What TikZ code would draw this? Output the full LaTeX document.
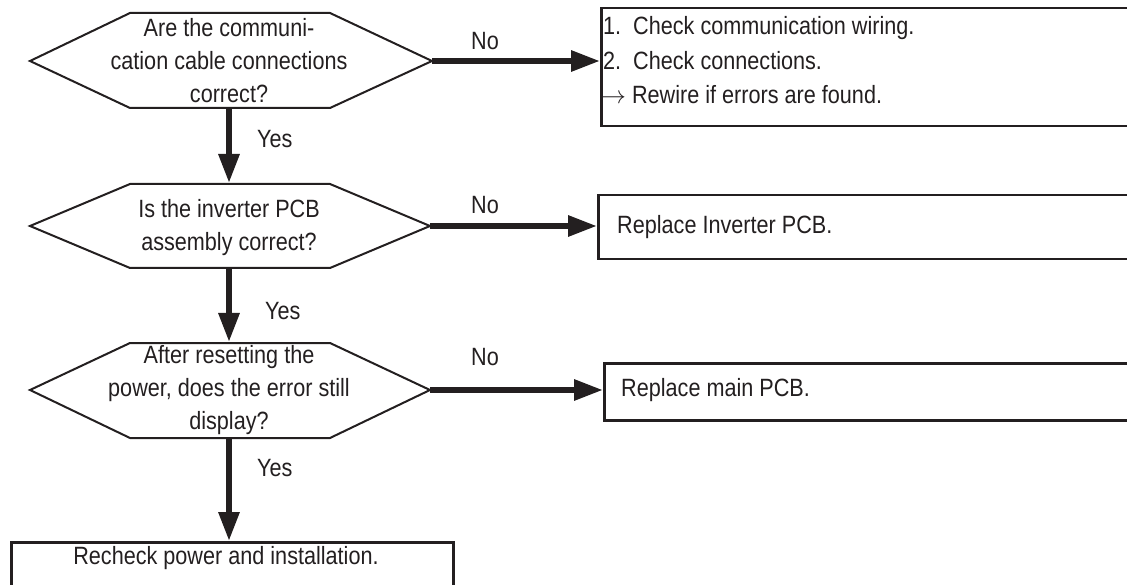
\documentclass[tikz,border=0pt]{standalone}
\usepackage{fontspec}
\setmainfont{Liberation Sans}[FakeStretch=0.865]
\usetikzlibrary{arrows.meta}
\definecolor{ink}{HTML}{231F20}
\begin{document}
\begin{tikzpicture}[x=1pt,y=-1pt,
  hexline/.style={draw=ink, line width=2pt, line join=miter},
  boxline/.style={draw=ink, line width=2.5pt, inner sep=0pt, anchor=north west},
  arr/.style={draw=ink, line width=6pt, -{Triangle[length=29pt,width=20pt]}},
  txt/.style={font=\fontsize{25}{33}\selectfont, text=ink, align=center, inner sep=0pt},
  lbl/.style={font=\fontsize{25}{33}\selectfont, text=ink, inner sep=0pt}]
\useasboundingbox (0,0) rectangle (1127,585);
% decision shapes
\draw[hexline] (30,61) -- (130,13) -- (330,13) -- (432,61) -- (330,108) -- (130,108) -- cycle;
\draw[hexline] (30,226) -- (130,184) -- (330,184) -- (430,226) -- (330,268) -- (130,268) -- cycle;
\draw[hexline] (30,390) -- (130,343) -- (330,343) -- (430,390) -- (330,438) -- (130,438) -- cycle;
\node[txt] (q1) at (229,61) {Are the communi-\\cation cable connections\\correct?};
\node[txt] (q2) at (229,228) {Is the inverter PCB\\assembly correct?};
\node[txt] (q3) at (229,390) {After resetting the\\power, does the error still\\display?};
\coordinate (q1r) at (432,61);
\coordinate (q1b) at (229,108);
\coordinate (q2t) at (229,183);
\coordinate (q2r) at (430,226);
\coordinate (q2b) at (229,268);
\coordinate (q3t) at (229,342);
\coordinate (q3r) at (430,390);
\coordinate (q3b) at (229,438);
% boxes
\node[boxline, minimum width=540pt, minimum height=118pt] (b1) at (600,7) {};
\node[boxline, minimum width=543pt, minimum height=64pt] (b2) at (597,194) {};
\node[boxline, minimum width=537pt, minimum height=57pt] (b3) at (603,362) {};
\node[boxline, minimum width=442pt, minimum height=60pt] (b4) at (10,541) {};
\node[lbl, anchor=west] (t1a) at (603,28) {1.\ \ Check communication wiring.};
\node[lbl, anchor=west] (t1b) at (603,61) {2.\ \ Check connections.};
\node[lbl, anchor=west] (t1c) at (601,95) {$\rightarrow$ Rewire if errors are found.};
\node[lbl, anchor=west] (t2) at (617,227) {Replace Inverter PCB.};
\node[lbl, anchor=west] (t3) at (621,390) {Replace main PCB.};
\node[lbl] (t4) at (226,558) {Recheck power and installation.};
% connectors
\draw[arr] (q1r) -- (q1r -| b1.west);
\draw[arr] (q2r) -- (q2r -| b2.west);
\draw[arr] (q3r) -- (q3r -| b3.west);
\draw[arr] (q1b) -- (q2t);
\draw[arr] (q2b) -- (q3t);
\draw[arr] (q3b) -- (q3b |- b4.north);
% labels
\node[lbl] (n1) at (485,41) {No};
\node[lbl] (n2) at (485,205) {No};
\node[lbl] (n3) at (485,357) {No};
\node[lbl, anchor=west] (y1) at (257,139) {Yes};
\node[lbl, anchor=west] (y2) at (265,311) {Yes};
\node[lbl, anchor=west] (y3) at (257,468) {Yes};
\end{tikzpicture}
\end{document}
